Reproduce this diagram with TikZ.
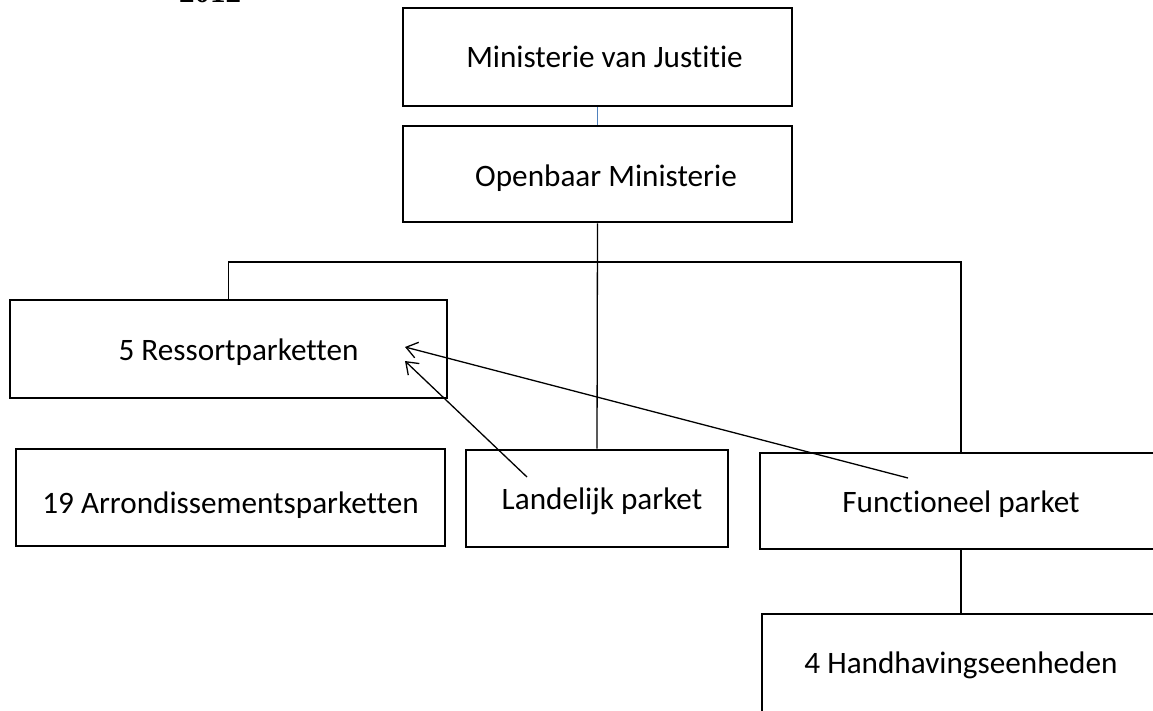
\documentclass[tikz,border=0pt]{standalone}
\usepackage{fontspec}
\setmainfont{Carlito}[Ligatures={NoCommon}]
\newfontfamily\yearfont{Liberation Serif}
\usetikzlibrary{arrows.meta}
\definecolor{linkblue}{RGB}{79,129,189}
\begin{document}
\begin{tikzpicture}[x=1pt,y=-1pt,
  box/.style={draw=black, line width=2.6pt, inner sep=0pt, rectangle,
    font=\fontsize{31.2}{36}\selectfont, text depth=7pt},
  th/.style={text height=#1},
  conn/.style={draw=black, line width=1.3pt},
  ptr/.style={draw=black, line width=1.3pt, -{Straight Barb[length=11pt,width=16pt,line width=1.3pt]}}]
\useasboundingbox (0,0) rectangle (1153,710);
\clip (0,0) rectangle (1153,710);
\fill[white] (0,0) rectangle (1153,710);

\node[font=\yearfont\bfseries\fontsize{31}{31}\selectfont, anchor=base, inner sep=0pt] (year) at (210,2) {2012};

\node[box, th=28.4pt, minimum width=389pt, minimum height=98pt] (mvj) at (597.5,57) {\hspace*{14pt}Ministerie van Justitie};
\node[box, th=31pt, minimum width=389pt, minimum height=96pt] (om) at (597.5,174) {\hspace*{17pt}Openbaar Ministerie};
\node[box, th=29pt, minimum width=437pt, minimum height=98pt] (res) at (228.5,349) {\hspace*{20pt}5 Ressortparketten};
\node[box, th=38pt, minimum width=429pt, minimum height=97pt] (arr) at (230.5,497.5) {19 Arrondissementsparketten};
\node[box, th=29pt, minimum width=262pt, minimum height=97pt] (lan) at (597,498.5) {\hspace*{10pt}Landelijk parket};
\node[box, th=30.4pt, minimum width=402pt, minimum height=96pt] (fun) at (961,501) {Functioneel parket};
\node[box, th=25pt, minimum width=398pt, minimum height=100pt] (hh) at (961,664) {4 Handhavingseenheden};

\coordinate (busy) at (0,262);
\coordinate (lanA) at (527,477);
\coordinate (funA) at (908,478);
\coordinate (tipA) at (405,347);
\coordinate (tipB) at (405,361);

\draw[draw=linkblue, line width=1.2pt] (mvj.south) -- (om.north);
\draw[conn] (om.south) -- (lan.north);
\draw[conn] (res.north) -- (res.north |- busy) -| (fun.north);
\draw[conn] (fun.south) -- (fun.south |- hh.north);
\draw[ptr] (funA) -- (tipA);
\draw[ptr] (lanA) -- (tipB);
\end{tikzpicture}
\end{document}
